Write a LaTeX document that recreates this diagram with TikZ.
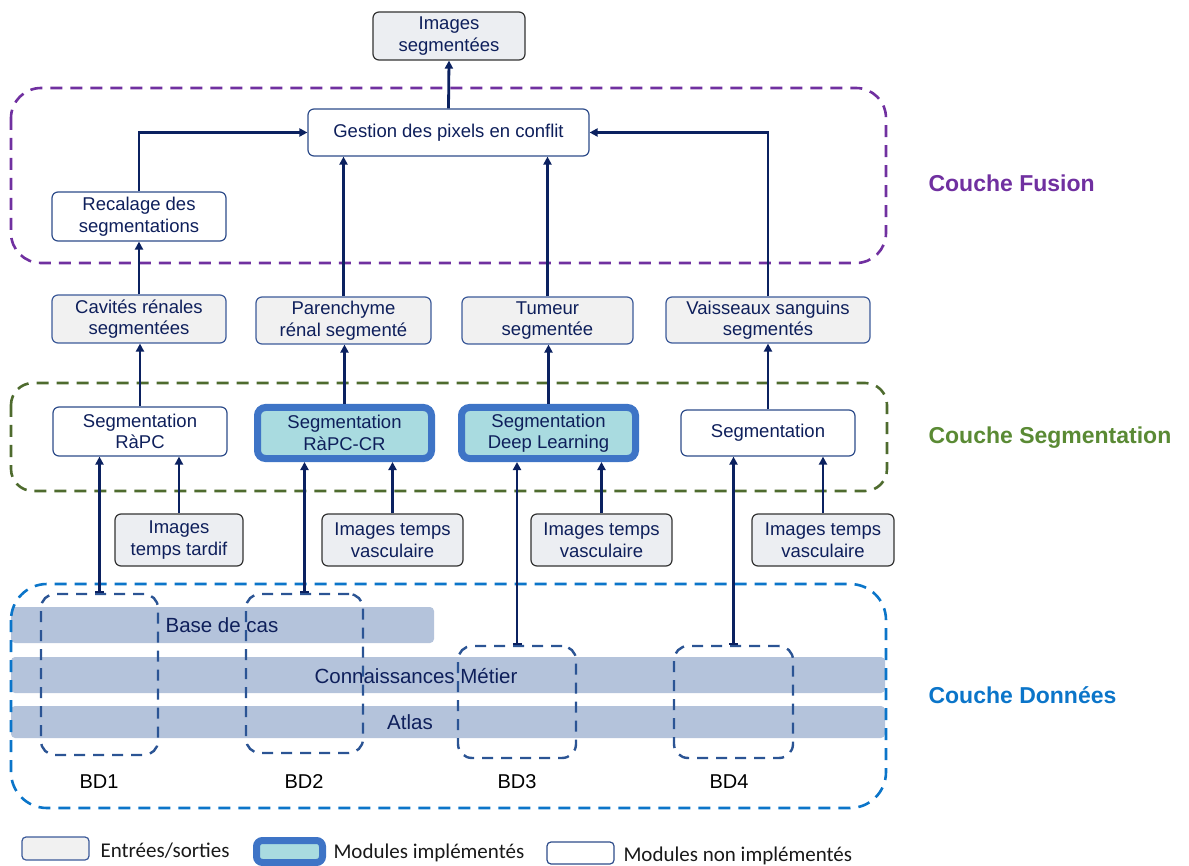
\documentclass[tikz,border=0pt]{standalone}
\usepackage{fontspec}
\setmainfont{Liberation Sans}
\newfontfamily\legfont{Carlito}
\usetikzlibrary{arrows.meta}
\definecolor{navy}{HTML}{0B2160}
\definecolor{txt}{HTML}{0E1F5B}
\definecolor{wborder}{HTML}{2E4C8A}
\definecolor{gfill}{HTML}{F1F1F1}
\definecolor{gborder}{HTML}{3C5A99}
\definecolor{ifill}{HTML}{ECEEF2}
\definecolor{iborder}{HTML}{333333}
\definecolor{impfill}{HTML}{A9DBE0}
\definecolor{impborder}{HTML}{3E74C6}
\definecolor{purp}{HTML}{7030A0}
\definecolor{gdash}{HTML}{4E6B2E}
\definecolor{gtext}{HTML}{5A8A34}
\definecolor{bblue}{HTML}{0B75C9}
\definecolor{bddash}{HTML}{2B5494}
\definecolor{barcol}{HTML}{B4C3DB}
\newcommand{\mainsz}{\fontsize{18.5}{21.5}\selectfont}
\tikzset{
  base/.style={rounded corners=6pt, align=center, inner sep=0pt, font=\mainsz, text=txt},
  iobox/.style={base, draw=gborder, fill=gfill, line width=1.2pt},
  iodark/.style={base, draw=iborder, fill=ifill, line width=1.2pt},
  modbox/.style={base, draw=wborder, fill=white, line width=1.2pt},
  impbox/.style={base, draw=impborder, fill=impfill, line width=7pt, rounded corners=8pt, outer sep=3.5pt},
  conn/.style={draw=navy, line width=2.8pt, -{Triangle[length=8pt,width=8pt]}},
  bdconn/.style={draw=navy, line width=2.8pt, {Bar[width=9pt,line width=2pt]}-{Triangle[length=8pt,width=8pt]}},
  layer/.style={line width=2.6pt, dash pattern=on 12pt off 8pt},
  bdbox/.style={draw=bddash, line width=2.4pt, dash pattern=on 11pt off 8pt, rounded corners=14pt},
  bartext/.style={font=\fontsize{20.5}{24}\selectfont, text=txt},
  laytext/.style={font=\fontsize{23}{27}\selectfont\bfseries, anchor=west},
  bdlab/.style={font=\fontsize{20}{24}\selectfont, text=black},
  legtext/.style={font=\legfont\fontsize{21}{25}\selectfont, text=black!90, anchor=west}
}
\begin{document}
\begin{tikzpicture}[x=1pt,y=-1pt]
\useasboundingbox (0,0) rectangle (1189,866);

% data bars
\fill[barcol, rounded corners=4pt] (11,607) rectangle (434,643);
\fill[barcol, rounded corners=4pt] (11,657) rectangle (885,693);
\fill[barcol, rounded corners=4pt] (11,706) rectangle (885,738);
\node[bartext] (tbase) at (222,625) {Base de cas};
\node[bartext] (tconn) at (416,676) {Connaissances Métier};
\node[bartext] (tatlas) at (410,722) {Atlas};

% BD boxes
\node[bdbox, minimum width=117pt, minimum height=161pt] (bd1) at (99.5,674.5) {};
\node[bdbox, minimum width=117pt, minimum height=159pt] (bd2) at (304.5,673.5) {};
\node[bdbox, minimum width=118pt, minimum height=112pt] (bd3) at (517,702) {};
\node[bdbox, minimum width=119pt, minimum height=112pt] (bd4) at (733.5,702) {};
\node[bdlab] (l1) at (99,782) {BD1};
\node[bdlab] (l2) at (304,782) {BD2};
\node[bdlab] (l3) at (517,782) {BD3};
\node[bdlab] (l4) at (729,782) {BD4};

% layer boxes
\draw[layer, draw=purp, rounded corners=30pt] (11,88) rectangle (886,263);
\draw[layer, draw=gdash, rounded corners=22pt] (11,383) rectangle (887,491);
\draw[layer, draw=bblue, rounded corners=36pt] (11,584) rectangle (886,808);
\node[laytext, text=purp] (lf) at (925,183) {Couche Fusion};
\node[laytext, text=gtext] (ls) at (925,438) {Couche Segmentation};
\node[laytext, text=bblue] (ld) at (925,695) {Couche Données};

% nodes
\node[iodark, minimum width=152pt, minimum height=48pt] (out) at (449,36) {Images\\segmentées};
\node[modbox, minimum width=281pt, minimum height=47pt] (gest) at (448.5,132.5) {Gestion des pixels en conflit};
\node[modbox, minimum width=174pt, minimum height=49pt] (recal) at (139,216.5) {Recalage des\\segmentations};

\node[iobox, minimum width=174pt, minimum height=48pt] (cav) at (139,319) {Cavités rénales\\segmentées};
\node[iobox, minimum width=175pt, minimum height=47pt] (par) at (343.5,320.5) {Parenchyme\\rénal segmenté};
\node[iobox, minimum width=171pt, minimum height=47pt] (tum) at (547.5,320.5) {Tumeur\\segmentée};
\node[iobox, minimum width=204pt, minimum height=46pt] (vais) at (768,320) {Vaisseaux sanguins\\segmentés};

\node[modbox, minimum width=174pt, minimum height=49pt] (seg1) at (140,431.5) {Segmentation\\RàPC};
\node[impbox, minimum width=174pt, minimum height=51pt] (seg2) at (344.5,433) {Segmentation\\RàPC-CR};
\node[impbox, minimum width=174pt, minimum height=51pt] (seg3) at (548.5,433) {Segmentation\\Deep Learning};
\node[modbox, minimum width=174pt, minimum height=46pt] (seg4) at (768,433) {Segmentation};

\node[iodark, minimum width=128pt, minimum height=52pt] (in1) at (179,540) {Images\\temps tardif};
\node[iodark, minimum width=141pt, minimum height=52pt] (in2) at (392.5,540) {Images temps\\vasculaire};
\node[iodark, minimum width=141pt, minimum height=52pt] (in3) at (601.5,540) {Images temps\\vasculaire};
\node[iodark, minimum width=142pt, minimum height=52pt] (in4) at (823,540) {Images temps\\vasculaire};

% connectors
\draw[conn] (gest.north) -- (out.south);
\draw[conn] (recal.north) |- (gest.west);
\draw[conn] (vais.north) |- (gest.east);
\draw[conn] (par.north) -- (par.north |- gest.south);
\draw[conn] (tum.north) -- (tum.north |- gest.south);
\draw[conn] (cav.north) -- (recal.south);
\draw[conn] (seg1.north) -- (seg1.north |- cav.south);
\draw[conn] (seg2.north) -- (seg2.north |- par.south);
\draw[conn] (seg3.north) -- (seg3.north |- tum.south);
\draw[conn] (seg4.north) -- (seg4.north |- vais.south);
\draw[conn] (in1.north) -- (in1.north |- seg1.south);
\draw[conn] (in2.north) -- (in2.north |- seg2.south);
\draw[conn] (in3.north) -- (in3.north |- seg3.south);
\draw[conn] (in4.north) -- (in4.north |- seg4.south);
\draw[bdconn] (bd1.north) -- (bd1.north |- seg1.south);
\draw[bdconn] (bd2.north) -- (bd2.north |- seg2.south);
\draw[bdconn] (bd3.north) -- (bd3.north |- seg3.south);
\draw[bdconn] (bd4.north) -- (bd4.north |- seg4.south);

% legend
\node[base, draw=gborder, fill=gfill, line width=1.2pt, rounded corners=4pt, minimum width=67pt, minimum height=23pt] (lg1) at (55.5,848.5) {};
\node[legtext] (lt1) at (97,851) {Entrées/sorties};
\node[base, draw=impborder, fill=impfill, line width=7pt, rounded corners=6pt, minimum width=66pt, minimum height=22pt] (lg2) at (289.5,851.5) {};
\node[legtext] (lt2) at (330,853) {Modules implémentés};
\node[base, draw=wborder, fill=white, line width=1.2pt, rounded corners=4pt, minimum width=67pt, minimum height=22pt] (lg3) at (580.5,853) {};
\node[legtext] (lt3) at (620,856) {Modules non implémentés};
\end{tikzpicture}
\end{document}
